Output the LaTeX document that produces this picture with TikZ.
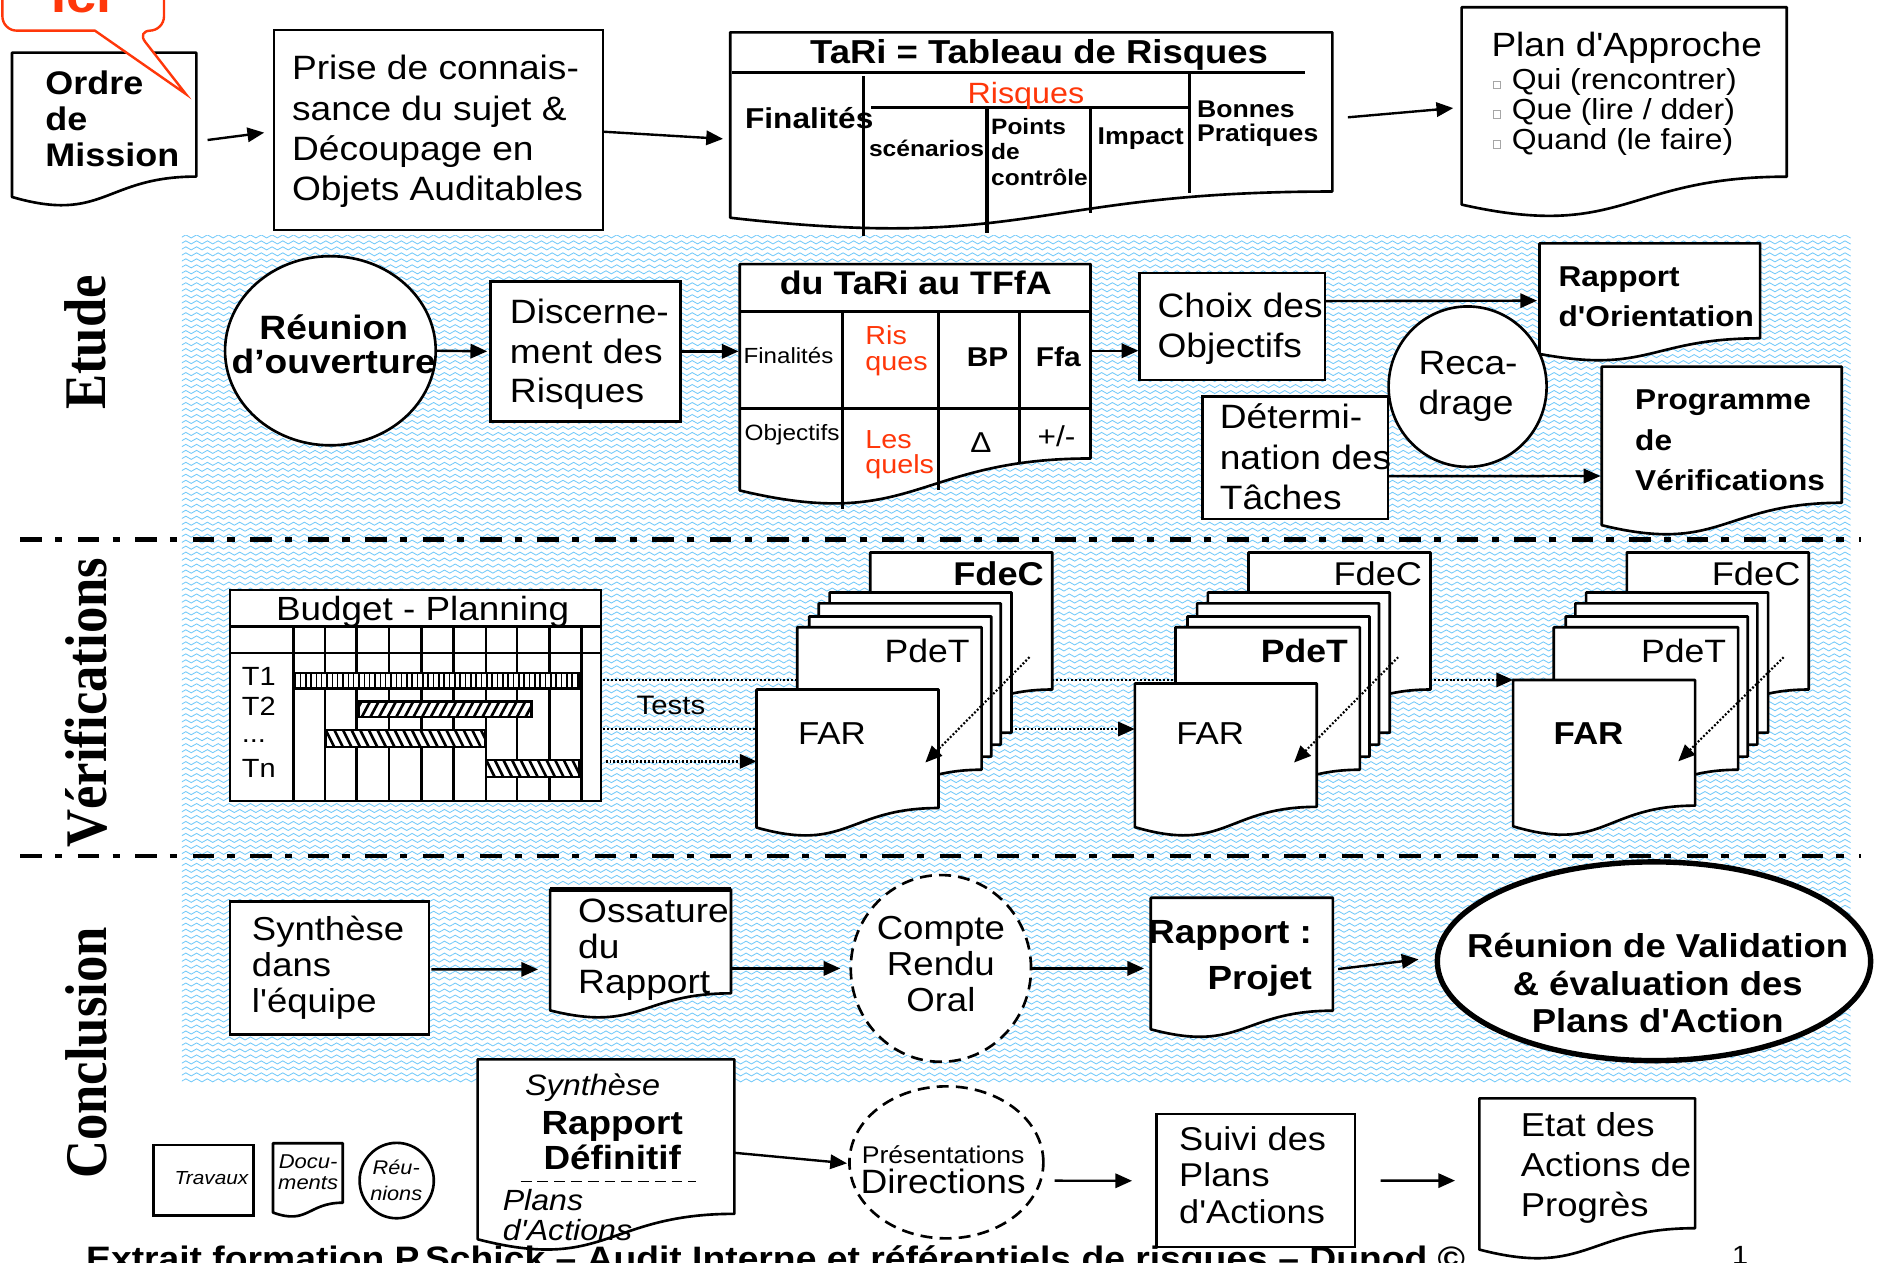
\documentclass[tikz,border=0pt]{standalone}
\usepackage{fontspec}
\setmainfont{Liberation Sans}[FakeStretch=1.1,Ligatures=TeXOff]
\newfontfamily\serifbf{Liberation Serif}
\usetikzlibrary{shapes.geometric,arrows.meta,patterns,calc}
\definecolor{wavecol}{RGB}{115,202,250}
\definecolor{redi}{RGB}{255,55,10}
\pgfdeclarelayer{bg}
\pgfdeclarelayer{shp}
\pgfsetlayers{bg,shp,main}
\pgfdeclarepatternformonly{wavy}{\pgfqpoint{-1pt}{-1pt}}{\pgfqpoint{10pt}{6pt}}{\pgfqpoint{9pt}{5pt}}{%
  \pgfsetlinewidth{0.7pt}%
  \pgfpathmoveto{\pgfqpoint{0pt}{2.5pt}}%
  \pgfpathcurveto{\pgfqpoint{1.5pt}{4.2pt}}{\pgfqpoint{3pt}{4.2pt}}{\pgfqpoint{4.5pt}{2.5pt}}%
  \pgfpathcurveto{\pgfqpoint{6pt}{0.8pt}}{\pgfqpoint{7.5pt}{0.8pt}}{\pgfqpoint{9pt}{2.5pt}}%
  \pgfusepath{stroke}}
\newcommand\fz[2]{\fontsize{#1}{#2}\selectfont}
\newcommand\bul{{\color{gray!70}\raisebox{1.2pt}{\fboxsep=0pt\fboxrule=0.7pt\fbox{\rule{0pt}{5.5pt}\hspace{5.5pt}}}}\hspace{9pt}}
\tikzset{
  every node/.style={inner sep=0pt, outer sep=0pt},
  bx/.style={draw, line width=2.2pt, fill=white},
  dn/.style={inner sep=0pt, outer sep=0pt},
  docline/.style={draw, line width=2.2pt, fill=white, line join=round},
  arr/.style={line width=2pt, -{Triangle[length=14pt,width=12pt]}},
  dotl/.style={line width=2pt, dash pattern=on 1.6pt off 1.6pt},
  dota/.style={dotl, -{Triangle[length=14pt,width=12pt]}},
  sep/.style={line width=4pt, dash pattern=on 18pt off 11pt on 6pt off 13pt},
  ell/.style={ellipse, draw, line width=2.2pt, fill=white},
  gl/.style={line width=2.2pt},
  tl/.style={line width=2.6pt},
}
\newcommand\docsh[1]{\begin{pgfonlayer}{shp}\path[docline] (#1.north west) -- (#1.north east) -- (#1.south east) .. controls (#1.south) and ($(#1.north)!1.381!(#1.south)$) .. ($(#1.north west)!1.1646!(#1.south west)$) -- cycle;\end{pgfonlayer}}
\newcommand\docnode[5]{\node[dn, anchor=north west, minimum width=#4, minimum height=#5] (#1) at (#2,#3) {};\docsh{#1}}
\newcommand\gbar[5]{\fill[white] (#1,#2) rectangle (#3,#4);
  \begin{scope}\clip (#1,#2) rectangle (#3,#4); #5 \end{scope}
  \draw[line width=2pt] (#1,#2) rectangle (#3,#4);}
\newcommand\stack[7]{%
  \docnode{fdec#1}{727+#2}{461.5}{152}{114.5}
  \docnode{pa#1}{693+#2}{495}{152}{117}
  \docnode{pb#1}{684+#2}{504}{152}{118}
  \docnode{pc#1}{676+#2}{515}{152}{117}
  \docnode{pdet#1}{666+#2}{524}{154}{119}
  \docnode{far#1}{632+#2}{#3}{152}{#4}
  \node[anchor=east, font=#5\fz{27.5}{28}] (fdec#1-t) at (872+#2,479) {FdeC};
  \node[anchor=east, font=#6\fz{27}{28}] (pdet#1-t) at (810+#2,544) {PdeT};
  \node[font=#7\fz{26.5}{28}] (far#1-t) at (695+#2,613) {FAR};
}
\begin{document}
\begin{tikzpicture}[x=1pt,y=-1pt]
\useasboundingbox (0,0) rectangle (1568,1055);
\begin{pgfonlayer}{bg}
\fill[white] (0,0) rectangle (1568,1055);
\fill[pattern=wavy, pattern color=wavecol] (152,197) rectangle (1546,905);
\end{pgfonlayer}

% ---------- top row ----------
\docnode{om}{10}{44}{154}{103.5}
\draw[line width=2pt, draw=redi, fill=white, rounded corners=12] (79.3,25.6) -- (2,25.6) -- (2,-40) -- (137,-40) -- (137,25.6) -- (114,25.6) [sharp corners] -- (155.2,78.5) -- cycle;
\node[anchor=base, text=redi, font=\bfseries\fz{41}{41}] (ici) at (68,10.6) {Ici};
\node[anchor=west, align=left, font=\bfseries\fz{27.3}{30}] (om-t) at (38,99.5) {Ordre\\de\\Mission};

\node[bx, anchor=north west, minimum width=274.7, minimum height=167] (prise) at (229,25) {};
\node[anchor=west, align=left, font=\fz{28.2}{33.7}] (prise-t) at (244,110) {Prise de connais-\\sance du sujet \&\\Découpage en\\Objets Auditables};

\docnode{tari}{610}{27}{503}{133}
\draw[tl] (611.5,60.4) -- (1090,60.4);
\draw[tl] (721,63.5) -- (721,197);
\draw[tl] (728,90) -- (994,90);
\draw[tl] (824.5,88.6) -- (824.5,195);
\draw[tl] (911,91) -- (911,178);
\draw[tl] (994,62) -- (994,161);
\node[font=\bfseries\fz{27.7}{30}] (tari-t) at (868,46) {TaRi = Tableau de Risques};
\node[font=\bfseries\fz{24}{24}] (fin-t) at (676,98.8) {Finalités};
\node[text=redi, font=\fz{24.5}{24}] (ris-t) at (857,79.8) {Risques};
\node[font=\bfseries\fz{18.7}{20}] (scen-t) at (774,124) {scénarios};
\node[anchor=west, align=left, font=\bfseries\fz{18.6}{21}] (pts-t) at (828,127) {Points\\de\\contrôle};
\node[font=\bfseries\fz{20.3}{21}] (imp-t) at (953,116) {Impact};
\node[anchor=west, align=left, font=\bfseries\fz{20.2}{20.5}] (bp-t) at (1000,103.4) {Bonnes\\Pratiques};

\docnode{plan}{1221}{6}{271.6}{141.6}
\node[anchor=west, font=\fz{28.1}{30}] (plan-t) at (1246,39.8) {Plan d'Approche};
\node[anchor=west, align=left, font=\fz{24.2}{25}] (plan-l) at (1247,93.4) {\bul Qui (rencontrer)\\\bul Que (lire / dder)\\\bul Quand (le faire)};

\draw[arr] ([shift={(9.4,21.2)}]om.east) -- ([shift={(-8.3,2.3)}]prise.west);
\draw[arr] ([shift={(0,1.5)}]prise.east) -- ([shift={(-6,22.5)}]tari.west);
\draw[arr] ([shift={(13,4.5)}]tari.east) -- ([shift={(-7,13.5)}]plan.west);

% ---------- separators and side labels ----------
\draw[sep] (17,451) -- (1555,451);
\draw[sep] (17,715) -- (1555,715);
\node[rotate=90, anchor=base] (lab1) at (88.5,286) {\serifbf\bfseries\fz{44}{44}\scalebox{1}[1.12]{Etude}};
\node[rotate=90, anchor=base] (lab2) at (89,587) {\serifbf\bfseries\fz{44}{44}\scalebox{1}[1.12]{Vérifications}};
\node[rotate=90, anchor=base] (lab3) at (89,879.5) {\serifbf\bfseries\fz{44}{44}\scalebox{1}[1.12]{Conclusion}};

% ---------- Etude ----------
\node[ell, minimum width=176, minimum height=158] (reun) at (276,293) {};
\node[align=center, font=\bfseries\fz{28.2}{29}] (reun-t) at (278.8,287.5) {Réunion\\d’ouverture};
\node[bx, anchor=north west, minimum width=158.7, minimum height=117] (disc) at (410,235) {};
\node[anchor=west, align=left, font=\fz{28.2}{33}] (disc-t) at (426,296) {Discerne-\\ment des\\Risques};

\docnode{tffa}{618}{220.6}{293}{162.4}
\draw[tl] (618,260.4) -- (911,260.4);
\draw[tl] (618,341) -- (911,341);
\draw[tl] (704,260.4) -- (704,425);
\draw[tl] (784,260.4) -- (784,409);
\draw[tl] (852,260.4) -- (852,387);
\node[font=\bfseries\fz{27.2}{28}] (tffa-t) at (765,236.7) {du TaRi au TFfA};
\node[font=\fz{18.3}{20}] (tf1) at (658.7,296.6) {Finalités};
\node[anchor=west, align=left, text=redi, font=\fz{21.8}{22.1}] (tf2) at (723,293.2) {Ris\\ques};
\node[font=\bfseries\fz{22.7}{24}] (tf3) at (825,298) {BP};
\node[font=\bfseries\fz{22.7}{24}] (tf4) at (884,298) {Ffa};
\node[font=\fz{18.5}{20}] (tf5) at (661.7,363.3) {Objectifs};
\node[anchor=west, align=left, text=redi, font=\fz{21.8}{21}] (tf6) at (723,380.2) {Les\\quels};
\node[font=\fz{24}{24}] (tf7) at (819.5,370) {Δ};
\node[font=\fz{24}{24}] (tf8) at (882.5,364.8) {+/-};

\node[bx, anchor=north west, minimum width=155, minimum height=89.5] (choix) at (952,228) {};
\node[anchor=west, align=left, font=\fz{28.2}{33.4}] (choix-t) at (967,274.3) {Choix des\\Objectifs};
\docnode{rori}{1286}{203.3}{184.3}{79.3}
\node[anchor=west, align=left, font=\bfseries\fz{24}{34}] (rori-t) at (1302,248) {Rapport\\d'Orientation};
\node[ell, minimum width=132, minimum height=134] (recad) at (1226,323) {};
\node[anchor=west, align=left, font=\fz{28.2}{33.5}] (recad-t) at (1185,323) {Reca-\\drage};
\node[bx, anchor=north west, minimum width=154.8, minimum height=102.3] (det) at (1004.7,331.4) {};
\node[anchor=west, align=left, font=\fz{28.2}{33.7}] (det-t) at (1019,381.75) {Détermi-\\nation des\\Tâches};
\docnode{prog}{1338}{306.3}{200.5}{113.7}
\node[anchor=west, align=left, font=\bfseries\fz{24}{34}] (prog-t) at (1366,368) {Programme\\de\\Vérifications};

\draw[arr] (reun.east) -- ([shift={(-3,0)}]disc.west);
\draw[arr] (disc.east) -- ([shift={(-1,-8.3)}]tffa.west);
\draw[arr] ([shift={(1,-8.8)}]tffa.east) -- ([shift={(-1,20.25)}]choix.west);
\draw[arr] ([shift={(0,-21.25)}]choix.east) -- ([shift={(-2,8.2)}]rori.west);
\draw[arr] ([shift={(0,15.2)}]det.east) -- ([shift={(-1,34.5)}]prog.west);

% ---------- Verifications ----------
\node[bx, anchor=north west, minimum width=310, minimum height=176] (budget) at (192,493) {};
\draw[gl] (192,523.5) -- (502,523.5);
\draw[gl] (192,545.5) -- (502,545.5);
\foreach \x in {245,271.5,298,325,352,379,406,432,459,486} \draw[gl] (\x,523.5) -- (\x,669);
\gbar{245}{562}{484}{575}{\foreach \i in {0,...,54} \draw[line width=1.3pt] ({246.5+\i*4.45},562) -- ++(0,13);}
\gbar{300}{586}{444}{599}{\foreach \i in {0,...,22} \draw[line width=2.2pt] ({295+\i*7.2},599) -- ++(7,-13);}
\gbar{272}{610}{405}{624}{\foreach \i in {0,...,20} \draw[line width=2.2pt] ({265+\i*7.2},610) -- ++(7,14);}
\gbar{406}{635}{484}{649}{\foreach \i in {0,...,12} \draw[line width=2.2pt] ({399+\i*7.2},635) -- ++(7,14);}
\node[font=\fz{28}{30}] (bud-t) at (353,510.8) {Budget - Planning};
\node[anchor=west, font=\fz{22}{24}] (t1) at (202,565) {T1};
\node[anchor=west, font=\fz{22}{24}] (t2) at (202,590) {T2};
\node[anchor=base west, font=\fz{22}{24}] (t3) at (202,620) {...};
\node[anchor=west, font=\fz{22}{24}] (tn) at (202,641.8) {Tn};
\node[font=\fz{22.3}{24}] (tests) at (560.5,589) {Tests};

\stack{1}{0}{576}{99}{\bfseries}{}{}
\stack{2}{316}{571}{103}{}{\bfseries}{}
\stack{3}{632}{568}{105}{}{}{\bfseries}

\draw[dotl] ([shift={(2,-13)}]budget.east) -- ([shift={(0,-15.5)}]pdet1.west);
\draw[dotl] ([shift={(2,28)}]budget.east) -- ([shift={(0,-16.5)}]far1.west);
\draw[dota] ([shift={(4,55)}]budget.east) -- ([shift={(0,10.5)}]far1.west);
\draw[dota] ([shift={(0,55.5)}]pa1.east) -- ([shift={(0,-13.5)}]far2.west);
\draw[dotl] ([shift={(0,49.25)}]fdec1.east) -- ([shift={(0,-15.5)}]pdet2.west);
\draw[dota] ([shift={(0,49.25)}]fdec2.east) -- (far3.north west);
\draw[dota, line width=1.8pt] ([shift={(-19,87.5)}]fdec1.north east) -- ([shift={(-11,11.5)}]far1.east);
\draw[dota, line width=1.8pt] ([shift={(-27,87.5)}]fdec2.north east) -- ([shift={(-19,14.5)}]far2.east);
\draw[dota, line width=1.8pt] ([shift={(-21,87.5)}]fdec3.north east) -- ([shift={(-14,15.5)}]far3.east);

% ---------- Conclusion ----------
\node[bx, anchor=north west, minimum width=166.4, minimum height=111] (synth) at (192,753) {};
\node[anchor=west, align=left, font=\fz{27.7}{30}] (synth-t) at (210.5,808.3) {Synthèse\\dans\\l'équipe};
\docnode{oss}{459.6}{743}{151}{86.8}
\draw[line width=4pt] (oss.north west) -- (oss.north east);
\node[anchor=west, align=left, font=\fz{28.2}{29.5}] (oss-t) at (483,793.6) {Ossature\\du\\Rapport};
\node[ell, dash pattern=on 10pt off 6pt, minimum width=150.6, minimum height=156] (compte) at (786,809) {};
\node[align=center, font=\fz{27.8}{30}] (compte-t) at (786,805.5) {Compte\\Rendu\\Oral};
\docnode{rproj}{961.3}{750}{152.1}{94.3}
\node[anchor=east, align=right, font=\bfseries\fz{28}{39}] (rproj-t) at (1096,800.6) {Rapport :\\Projet};
\node[ell, line width=4.5pt, minimum width=362, minimum height=166] (valid) at (1381.7,803) {};
\node[align=center, font=\bfseries\fz{27.7}{31}] (valid-t) at (1384.8,821.2) {Réunion de Validation\\\& évaluation des\\Plans d'Action};

\draw[arr] ([shift={(2,1.3)}]synth.east) -- ([shift={(-10.1,23.4)}]oss.west);
\draw[arr] ([shift={(0,22.6)}]oss.east) -- ([shift={(-8.7,0)}]compte.west);
\draw[arr] (compte.east) -- ([shift={(-5.6,11.85)}]rproj.west);
\draw[arr] ([shift={(4.4,12.35)}]rproj.east) -- ([shift={(-15.7,-1.6)}]valid.west);

% ---------- bottom row ----------
\node[bx, anchor=north west, minimum width=83.5, minimum height=59] (trav) at (128.3,956.6) {};
\node[font=\itshape\fz{15.8}{16}] (trav-t) at (176.7,984) {Travaux};
\docnode{docu}{228}{955}{58.3}{49.7}
\node[align=center, font=\itshape\fz{16.7}{18}] (docu-t) at (257.4,979.2) {Docu-\\ments};
\node[ell, minimum width=62, minimum height=63] (reu) at (331.4,986.2) {};
\node[align=center, font=\itshape\fz{16.5}{22}] (reu-t) at (331,985.8) {Réu-\\nions};

\node[anchor=base west, font=\bfseries\fz{28.3}{30}] (foot) at (72,1061) {Extrait formation P.Schick – Audit Interne et référentiels de risques – Dunod ©};
\node[anchor=base, font=\fz{22}{22}] (pg) at (1453.7,1056) {1};

\docnode{rdef}{399}{885}{214.5}{129}
\node[font=\itshape\fz{24.6}{26}] (rdef-t1) at (495,909) {Synthèse};
\node[font=\bfseries\fz{28}{30}] (rdef-t2) at (511.4,940.8) {Rapport};
\node[font=\bfseries\fz{28}{30}] (rdef-t3) at (511.4,967) {Définitif};
\draw[line width=1.6pt, dash pattern=on 9pt off 5pt] (435,987) -- (581,987);
\node[anchor=west, align=left, font=\itshape\fz{24.4}{25}] (rdef-t4) at (420,1015) {Plans\\d'Actions};

\node[ell, dash pattern=on 10pt off 6pt, minimum width=162, minimum height=127] (pres) at (790.6,971) {};
\node[font=\fz{20.2}{22}] (pres-t1) at (787.9,964.9) {Présentations};
\node[font=\fz{28.2}{30}] (pres-t2) at (787.9,987.2) {Directions};
\node[bx, anchor=north west, minimum width=166, minimum height=111] (suivi) at (966,930.6) {};
\node[anchor=west, align=left, font=\fz{27.5}{30.6}] (suivi-t) at (985,981.6) {Suivi des\\Plans\\d'Actions};
\docnode{etat}{1235.8}{917.5}{180.2}{108.5}
\node[anchor=west, align=left, font=\fz{27.7}{33.4}] (etat-t) at (1270.5,976) {Etat des\\Actions de\\Progrès};

\draw[arr] ([shift={(0,13.5)}]rdef.east) -- ([shift={(-2,0.8)}]pres.west);
\draw[arr] ([shift={(9.3,15.3)}]pres.east) -- ([shift={(-20.3,0.3)}]suivi.west);
\draw[arr] ([shift={(21.3,0.2)}]suivi.east) -- ([shift={(-20.3,14.5)}]etat.west);
\end{tikzpicture}
\end{document}
